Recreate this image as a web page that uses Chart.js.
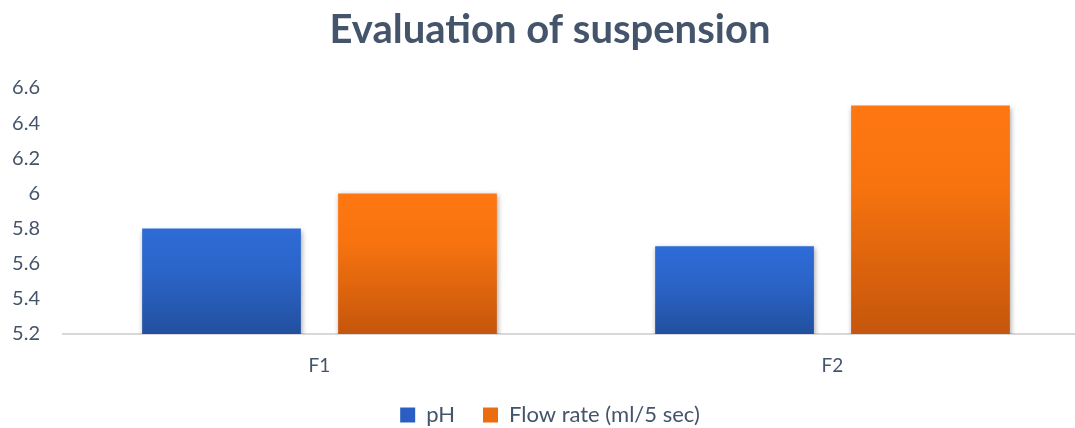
<!DOCTYPE html>
<html>
<head>
<meta charset="utf-8">
<script src="https://cdn.jsdelivr.net/npm/chart.js@4.4.1/dist/chart.umd.min.js"></script>
<style>
	html, body { margin: 0; padding: 0; background: #fff; overflow: hidden; height: 428px; }
	#wrap { width: 1110px; height: 436px; position: relative; }
</style>
</head>
<body>
<div id="wrap"><canvas id="cv"></canvas></div>
<script>
var categories = ['F1', 'F2'];
var phValues = [5.8, 5.7];
var flowValues = [6.0, 6.5];
var seriesNames = ['pH', 'Flow rate (ml/5 sec)'];
var yMin = 5.2, yMax = 6.6, yStep = 0.2;

var txtColor = '#44546A';
var fontFam = 'Lato, "Open Sans", sans-serif';
var legendSwatch = ['#2A5EC2', '#EC6C10'];

// per-bar vertical gradient (top light, bottom dark)
function barFill(top, mid, bottom) {
	return function (ctx) {
		var chart = ctx.chart;
		if (!chart.chartArea || !chart.scales.y) return top;
		var ys = chart.scales.y;
		var y0 = ys.getPixelForValue(ctx.raw);
		var y1 = ys.getPixelForValue(yMin);
		if (!isFinite(y0) || y1 - y0 < 1) return top;
		var g = chart.ctx.createLinearGradient(0, y0, 0, y1);
		g.addColorStop(0, top);
		g.addColorStop(0.35, mid);
		g.addColorStop(1, bottom);
		return g;
	};
}

var shadowPlugin = {
	id: 'barShadow',
	beforeDatasetsDraw: function (chart) {
		var c = chart.ctx;
		c.save();
		c.shadowColor = 'rgba(0,0,0,0.35)';
		c.shadowBlur = 5;
		c.shadowOffsetX = 1;
		c.shadowOffsetY = 2;
	},
	afterDatasetsDraw: function (chart) {
		chart.ctx.restore();
	}
};

var chart = new Chart(document.getElementById('cv'), {
	type: 'bar',
	data: {
		labels: categories,
		datasets: [{
			label: seriesNames[0],
			data: phValues,
			backgroundColor: barFill('#2E6BD6', '#2C66CC', '#2250A0'),
			borderWidth: 0
		}, {
			label: seriesNames[1],
			data: flowValues,
			backgroundColor: barFill('#FF7712', '#F7730F', '#C5560C'),
			borderWidth: 0
		}]
	},
	options: {
		responsive: true,
		maintainAspectRatio: false,
		animation: false,
		layout: { padding: { left: 11, right: 21, top: 0, bottom: 0 } },
		datasets: { bar: { categoryPercentage: 0.764, barPercentage: 0.81 } },
		scales: {
			x: {
				grid: { display: false, drawTicks: false },
				border: { display: true, color: '#D9D9D9', width: 2 },
				ticks: { color: txtColor, font: { family: fontFam, size: 19 }, padding: 20 },
				afterFit: function (s) { s.height = 42; }
			},
			y: {
				min: yMin,
				max: yMax,
				grid: { display: false, drawTicks: false },
				border: { display: false },
				ticks: {
					stepSize: yStep,
					color: txtColor,
					font: { family: fontFam, size: 20 },
					padding: 23,
					callback: function (v) { return String(Math.round(v * 10) / 10); }
				},
				afterFit: function (s) { s.width = 52; }
			}
		},
		plugins: {
			title: {
				display: true,
				text: 'Evaluation of suspension',
				color: txtColor,
				font: { family: fontFam, size: 40, weight: 'bold' },
				padding: { top: 6, bottom: 34 }
			},
			legend: {
				position: 'bottom',
				labels: {
					color: txtColor,
					font: { family: fontFam, size: 22 },
					boxWidth: 15,
					boxHeight: 15,
					padding: 28,
					generateLabels: function (ch) {
						return ch.data.datasets.map(function (ds, i) {
							return {
								text: ds.label,
								fillStyle: legendSwatch[i],
								strokeStyle: legendSwatch[i],
								lineWidth: 0,
								fontColor: txtColor,
								hidden: !ch.isDatasetVisible(i),
								datasetIndex: i
							};
						});
					}
				}
			},
			tooltip: { enabled: false }
		}
	},
	plugins: [shadowPlugin]
});
</script>
</body>
</html>
